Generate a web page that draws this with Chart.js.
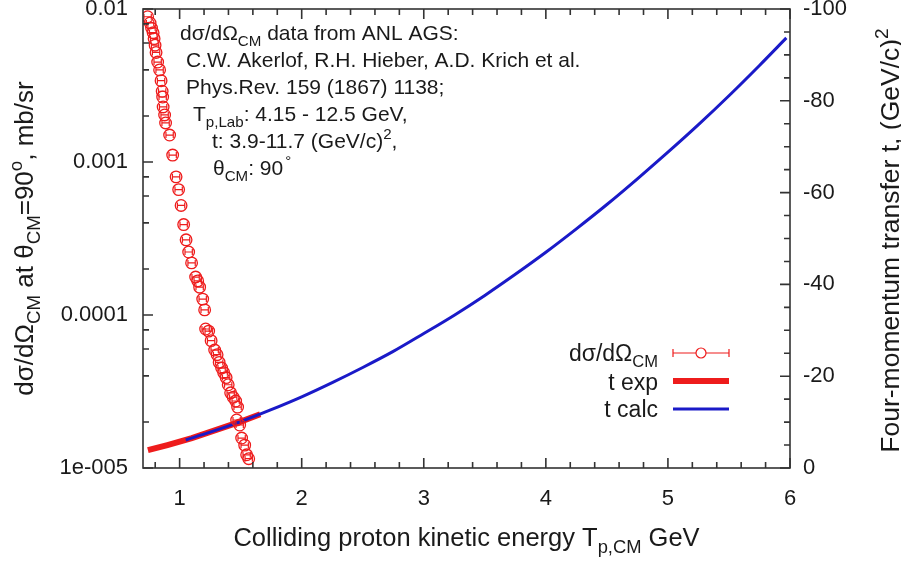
<!DOCTYPE html>
<html>
<head>
<meta charset="utf-8">
<script src="https://cdn.jsdelivr.net/npm/chart.js@4/dist/chart.umd.min.js"></script>
<style>
  html, body { margin: 0; padding: 0; background: #fff; }
  #wrap { width: 901px; height: 563px; position: relative; }
</style>
</head>
<body>
<div id="wrap"><canvas id="c"></canvas></div>
<script>
// dsigma/dOmega at 90 deg (ANL AGS, Akerlof et al.)
const energy = [0.738, 0.758, 0.770, 0.783, 0.791, 0.799, 0.807, 0.820, 0.836, 0.848,
  0.857, 0.861, 0.865, 0.877, 0.885, 0.918, 0.943, 0.971, 0.992, 1.012,
  1.033, 1.053, 1.074, 1.098, 1.131, 1.148, 1.164, 1.189, 1.205, 1.213,
  1.238, 1.258, 1.287, 1.307, 1.324, 1.344, 1.361, 1.381, 1.398, 1.418,
  1.439, 1.459, 1.475, 1.467, 1.492, 1.508, 1.533, 1.549, 1.566];
const dsig = [8.9e-3, 8.1e-3, 7.5e-3, 7.0e-3, 6.4e-3, 5.8e-3, 5.2e-3, 4.5e-3, 4.0e-3, 3.4e-3,
  2.9e-3, 2.66e-3, 2.29e-3, 2.03e-3, 1.80e-3, 1.50e-3, 1.11e-3, 8.0e-4, 6.6e-4, 5.2e-4,
  3.9e-4, 3.1e-4, 2.58e-4, 2.19e-4, 1.77e-4, 1.67e-4, 1.52e-4, 1.27e-4, 1.08e-4, 8.1e-5,
  7.85e-5, 6.8e-5, 5.9e-5, 5.5e-5, 4.9e-5, 4.5e-5, 4.2e-5, 3.9e-5, 3.5e-5, 3.1e-5,
  2.9e-5, 2.74e-5, 2.5e-5, 2.06e-5, 1.91e-5, 1.57e-5, 1.41e-5, 1.22e-5, 1.15e-5];
const xErr = 0.03;

// four-momentum transfer t
const tExpEnergy = [0.74, 0.9, 1.1, 1.3, 1.5, 1.66];
const tExp = [-3.9, -5.0, -6.5, -8.3, -10.1, -11.7];
const tCalcEnergy = [1.05, 1.25, 1.5, 1.75, 2, 2.25, 2.5, 2.75, 3, 3.25, 3.5,
  3.75, 4, 4.25, 4.5, 4.75, 5, 5.25, 5.5, 5.75, 5.97];
const tCalc = [-6.1, -7.8, -10.1, -12.7, -15.5, -18.6, -21.9, -25.4, -29.3, -33.3, -37.6,
  -42.2, -47.0, -52.1, -57.4, -63.0, -68.8, -74.8, -81.1, -87.7, -93.7];

const xTicks = [1, 2, 3, 4, 5, 6];
const yTicks = [1e-5, 1e-4, 1e-3, 1e-2];
const yTickLabels = ['1e-005', '0.0001', '0.001', '0.01'];
const tTicks = [0, -20, -40, -60, -80, -100];

const FONT = "'Liberation Sans', Arial, sans-serif";
const RED = '#ee1c1c';
const BLUE = '#1a1ac8';
const INK = '#1a1a1a';

// text with sub/superscripts: parts = [[text, ''|'sub'|'sup'], ...]
function richWidth(ctx, parts, size) {
  let w = 0;
  for (const [t, m] of parts) {
    ctx.font = (m ? size * 0.72 : size) + 'px ' + FONT;
    w += ctx.measureText(t).width;
  }
  return w;
}
function drawRich(ctx, parts, x, y, size, align) {
  const w = richWidth(ctx, parts, size);
  let cx = align === 'right' ? x - w : align === 'center' ? x - w / 2 : x;
  ctx.textBaseline = 'alphabetic';
  ctx.textAlign = 'left';
  for (const [t, m] of parts) {
    ctx.font = (m ? size * 0.72 : size) + 'px ' + FONT;
    const dy = m === 'sub' ? size * 0.28 : m === 'sup' ? -size * 0.42 : 0;
    ctx.fillText(t, cx, y + dy);
    cx += ctx.measureText(t).width;
  }
  return cx;
}

const frame = {
  id: 'frame',
  afterDatasetDraw(chart, args) {
    if (args.index !== 0) return;
    const ctx = chart.ctx, x = chart.scales.x, y = chart.scales.y;
    ctx.save();
    ctx.strokeStyle = RED;
    ctx.lineWidth = 1.2;
    energy.forEach((e, i) => {
      const x0 = x.getPixelForValue(e - xErr), x1 = x.getPixelForValue(e + xErr);
      const py = y.getPixelForValue(dsig[i]);
      ctx.beginPath();
      ctx.moveTo(x0, py); ctx.lineTo(x1, py);
      ctx.moveTo(x0, py - 3); ctx.lineTo(x0, py + 3);
      ctx.moveTo(x1, py - 3); ctx.lineTo(x1, py + 3);
      ctx.stroke();
    });
    ctx.restore();
  },
  afterDraw(chart) {
    const ctx = chart.ctx, a = chart.chartArea;
    const x = chart.scales.x, y = chart.scales.y, t = chart.scales.y2;
    ctx.save();
    ctx.strokeStyle = '#333';
    ctx.lineWidth = 1.6;
    ctx.strokeRect(a.left, a.top, a.right - a.left, a.bottom - a.top);
    ctx.beginPath();
    // x ticks, bottom and top
    for (let k = 4; k <= 30; k++) {
      const v = k / 5;
      const px = x.getPixelForValue(v);
      const len = k % 5 === 0 ? 10 : 6;
      ctx.moveTo(px, a.bottom); ctx.lineTo(px, a.bottom - len);
      ctx.moveTo(px, a.top); ctx.lineTo(px, a.top + len);
    }
    // log ticks, left
    for (let d = -5; d <= -2; d++) {
      for (const m of [1, 2, 4, 6, 8]) {
        const v = m * Math.pow(10, d);
        if (v > 0.0100001) continue;
        const py = y.getPixelForValue(v);
        const len = m === 1 ? 10 : 6;
        ctx.moveTo(a.left, py); ctx.lineTo(a.left + len, py);
      }
    }
    // t ticks, right
    for (let v = 0; v >= -100; v -= 5) {
      const py = t.getPixelForValue(v);
      const len = v % 20 === 0 ? 10 : 6;
      ctx.moveTo(a.right, py); ctx.lineTo(a.right - len, py);
    }
    ctx.stroke();

    // axis titles
    ctx.fillStyle = INK;
    const cy = (a.top + a.bottom) / 2;
    drawRich(ctx, [['Colliding proton kinetic energy T', ''], ['p,CM', 'sub'], [' GeV', '']],
      (a.left + a.right) / 2, 546, 25.5, 'center');
    ctx.save();
    ctx.translate(33, cy); ctx.rotate(-Math.PI / 2);
    drawRich(ctx, [['d\u03c3/d\u03a9', ''], ['CM', 'sub'], [' at \u03b8', ''], ['CM', 'sub'],
      ['=90', ''], ['o', 'sup'], [', mb/sr', '']], 0, 0, 26, 'center');
    ctx.restore();
    ctx.save();
    ctx.translate(899, cy + 2); ctx.rotate(-Math.PI / 2);
    drawRich(ctx, [['Four-momentum transfer t, (GeV/c)', ''], ['2', 'sup']], 0, 0, 26.5, 'center');
    ctx.restore();

    // annotation
    const fs = 21;
    drawRich(ctx, [['d\u03c3/d\u03a9', ''], ['CM', 'sub'], [' data from ANL AGS:', '']], 180, 40, fs);
    drawRich(ctx, [['C.W. Akerlof, R.H. Hieber, A.D. Krich et al.', '']], 186, 67, fs);
    drawRich(ctx, [['Phys.Rev. 159 (1867) 1138;', '']], 186, 94, fs);
    drawRich(ctx, [['T', ''], ['p,Lab', 'sub'], [': 4.15 - 12.5 GeV,', '']], 193, 121, fs);
    drawRich(ctx, [['t: 3.9-11.7 (GeV/c)', ''], ['2', 'sup'], [',', '']], 212, 148, fs);
    const degX = drawRich(ctx, [['\u03b8', ''], ['CM', 'sub'], [': 90', '']], 213, 175, fs);
    ctx.font = '15px ' + FONT;
    ctx.fillText('\u00b0', degX + 2, 166);

    // legend
    const lx0 = 673, lx1 = 729, tx = 658, ls = 23;
    const rows = [353, 381, 409];
    drawRich(ctx, [['d\u03c3/d\u03a9', ''], ['CM', 'sub']], tx, rows[0] + 8, ls, 'right');
    drawRich(ctx, [['t exp', '']], tx, rows[1] + 9, ls, 'right');
    drawRich(ctx, [['t calc', '']], tx, rows[2] + 8, ls, 'right');
    ctx.strokeStyle = RED; ctx.lineWidth = 1.2;
    ctx.beginPath();
    ctx.moveTo(lx0, rows[0]); ctx.lineTo(lx1, rows[0]);
    ctx.moveTo(lx0, rows[0] - 4); ctx.lineTo(lx0, rows[0] + 4);
    ctx.moveTo(lx1, rows[0] - 4); ctx.lineTo(lx1, rows[0] + 4);
    ctx.stroke();
    ctx.fillStyle = '#fff';
    ctx.beginPath(); ctx.arc((lx0 + lx1) / 2, rows[0], 5, 0, Math.PI * 2); ctx.fill(); ctx.stroke();
    ctx.lineWidth = 6;
    ctx.beginPath(); ctx.moveTo(lx0, rows[1]); ctx.lineTo(lx1, rows[1]); ctx.stroke();
    ctx.strokeStyle = BLUE; ctx.lineWidth = 3;
    ctx.beginPath(); ctx.moveTo(lx0, rows[2]); ctx.lineTo(lx1, rows[2]); ctx.stroke();
    ctx.restore();
  }
};

const tickFont = { family: FONT, size: 22 };
const noPad = s => { s.paddingTop = 0; s.paddingBottom = 0; s.paddingLeft = 0; s.paddingRight = 0; };

new Chart(document.getElementById('c'), {
  type: 'scatter',
  data: {
    datasets: [
      {
        label: 'dsig',
        data: energy.map((e, i) => ({ x: e, y: dsig[i] })),
        yAxisID: 'y',
        order: 0,
        showLine: false,
        pointStyle: 'circle',
        pointRadius: 5.8,
        borderColor: RED,
        borderWidth: 1.3,
        backgroundColor: 'rgba(0,0,0,0)'
      },
      {
        label: 't calc',
        data: tCalcEnergy.map((e, i) => ({ x: e, y: tCalc[i] })),
        yAxisID: 'y2',
        order: 1,
        showLine: true,
        pointRadius: 0,
        borderColor: BLUE,
        borderWidth: 3,
        cubicInterpolationMode: 'monotone'
      },
      {
        label: 't exp',
        data: tExpEnergy.map((e, i) => ({ x: e, y: tExp[i] })),
        yAxisID: 'y2',
        order: 2,
        showLine: true,
        pointRadius: 0,
        borderColor: RED,
        borderWidth: 6
      }
    ]
  },
  options: {
    responsive: true,
    maintainAspectRatio: false,
    animation: false,
    layout: { padding: { top: 9, left: 0, right: 0, bottom: 0 } },
    plugins: { legend: { display: false }, tooltip: { enabled: false } },
    scales: {
      x: {
        type: 'linear', position: 'bottom', min: 0.7, max: 6,
        grid: { display: false, drawTicks: false }, border: { display: false },
        afterBuildTicks: s => { s.ticks = xTicks.map(v => ({ value: v })); },
        afterFit: s => { s.height = 95; noPad(s); },
        ticks: { font: tickFont, color: INK, padding: 18, maxRotation: 0, callback: v => String(v) }
      },
      y: {
        type: 'logarithmic', position: 'left', min: 1e-5, max: 1e-2,
        grid: { display: false, drawTicks: false }, border: { display: false },
        afterBuildTicks: s => { s.ticks = yTicks.map(v => ({ value: v })); },
        afterFit: s => { s.width = 143; noPad(s); },
        ticks: { font: tickFont, color: INK, padding: 15, callback: (v, i) => yTickLabels[i] }
      },
      y2: {
        type: 'linear', position: 'right', min: -100, max: 0, reverse: true,
        grid: { display: false, drawTicks: false }, border: { display: false },
        afterBuildTicks: s => { s.ticks = tTicks.map(v => ({ value: v })); },
        afterFit: s => { s.width = 111; noPad(s); },
        ticks: { font: tickFont, color: INK, padding: 13, callback: v => String(v) }
      }
    }
  },
  plugins: [frame]
});
</script>
</body>
</html>
